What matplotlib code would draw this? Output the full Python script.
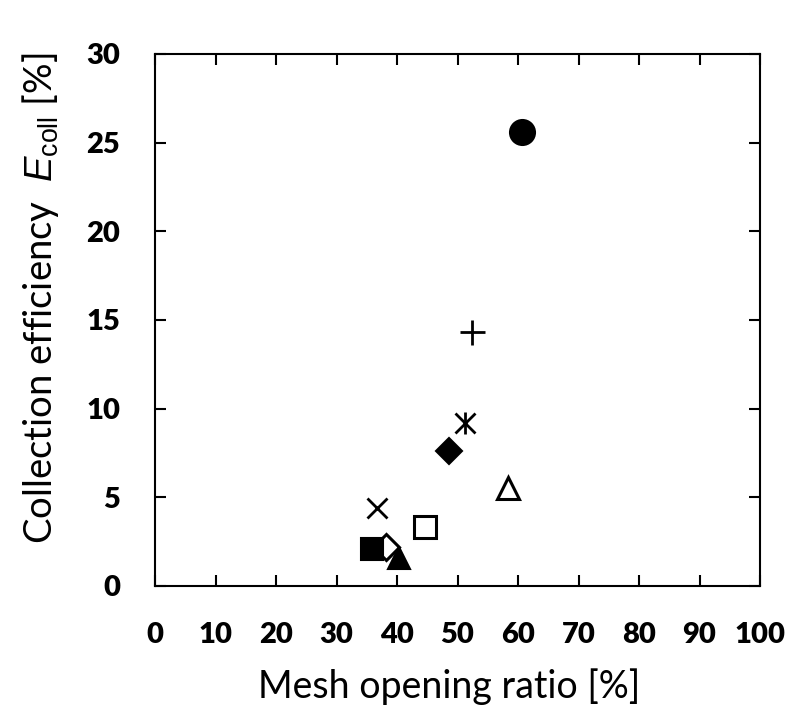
import matplotlib
matplotlib.use("Agg")
import matplotlib.pyplot as plt

# Datos (apertura de malla [%], eficiencia de colección [%])
labels = ["circle", "plus", "star", "diamond_f", "tri_open", "x",
          "square_open", "diamond_open", "square_f", "tri_f"]
opening = [60.7, 52.4, 51.2, 48.6, 58.3, 36.7, 44.7, 38.2, 35.8, 40.3]
eff = [25.6, 14.3, 9.2, 7.6, 5.5, 4.4, 3.3, 2.2, 2.07, 1.6]

# estilo de cada punto: (marker, relleno, tamaño, grosor)
styles = {
    "circle": ("o", "black", 18, 1.5),
    "plus": ("+", "black", 18, 2.0),
    "star": ("x", "black", 15, 2.0),
    "diamond_f": ("D", "black", 13, 1.5),
    "tri_open": ("^", "none", 16, 2.2),
    "x": ("x", "black", 15, 2.0),
    "square_open": ("s", "none", 16, 2.2),
    "diamond_open": ("D", "none", 13, 2.2),
    "square_f": ("s", "black", 16, 1.5),
    "tri_f": ("^", "black", 16, 1.5),
}

plt.rcParams["font.family"] = ["Lato", "DejaVu Sans"]
plt.rcParams["mathtext.fontset"] = "custom"
plt.rcParams["mathtext.rm"] = "Liberation Sans"
plt.rcParams["mathtext.it"] = "Liberation Sans:italic"

fig = plt.figure(figsize=(7.94, 7.06), dpi=100)
ax = fig.add_axes([155 / 794, 1 - 586 / 706, (760 - 155) / 794, (586 - 54) / 706])

for name, x, y in zip(labels, opening, eff):
    m, fc, ms, lw = styles[name]
    ax.plot(x, y, linestyle="none", marker=m, markersize=ms,
            markerfacecolor=fc, markeredgecolor="black", markeredgewidth=lw,
            zorder=3 if name != "diamond_open" else 2)
    if name == "star":
        ax.plot(x, y, linestyle="none", marker="|", markersize=ms * 1.1,
                markeredgecolor="black", markeredgewidth=lw, zorder=3)

ax.set_xlim(0, 100)
ax.set_ylim(0, 30)
ax.set_xticks(range(0, 101, 10))
ax.set_yticks(range(0, 31, 5))
ax.tick_params(direction="in", length=8, width=1.5, top=True, right=True,
               labelsize=21)
ax.tick_params(axis="x", pad=26)
ax.tick_params(axis="y", pad=25)
for lab in ax.get_xticklabels() + ax.get_yticklabels():
    lab.set_fontweight("heavy")
for s in ax.spines.values():
    s.set_linewidth(1.5)

ax.set_xlabel("Mesh opening ratio [%]", fontsize=27)
ax.set_ylabel("Collection efficiency  $\\mathit{E}_{\\mathrm{coll}}$ [%]",
              fontsize=27.5)
ax.xaxis.set_label_coords(0.486, -0.155)
ax.yaxis.set_label_coords(-0.155, 0.541)

fig.savefig("out.png", dpi=100)
